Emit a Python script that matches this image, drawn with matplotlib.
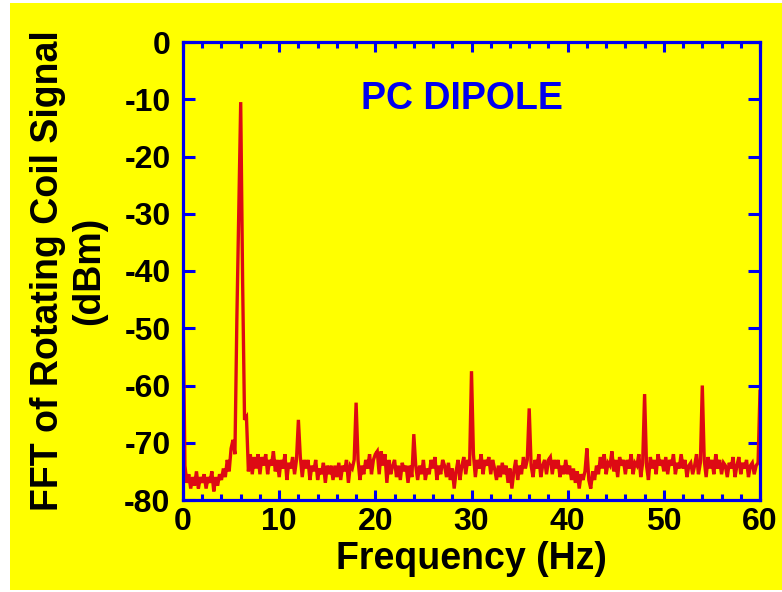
import numpy as np
from matplotlib import pyplot as plt
from matplotlib.patches import Rectangle
from matplotlib.ticker import MultipleLocator

# Spectrum sampled every 0.2 Hz, 0 .. 60 Hz
freq_step = 0.2
level_dbm = [
    # 0.0 - 1.8
    -45, -74, -77, -75.5, -78, -76, -77.5, -75, -78, -76,
    # 2.0 - 3.8
    -77, -75.5, -78, -76, -77, -75, -78.5, -76, -77.5, -75.5,
    # 4.0 - 5.8
    -76.5, -74.5, -76, -73, -75, -71, -69.5, -72, -48.5, -30,
    # 6.0 - 7.8
    -10.5, -42, -66, -65.5, -75, -72, -75.5, -72.5, -74.5, -72,
    # 8.0 - 9.8
    -75.5, -72.5, -74, -72, -75.5, -73, -74, -71.5, -75, -73,
    # 10.0 - 11.8
    -76, -73, -74.5, -72, -76.5, -73.5, -74.5, -72.5, -75.5, -73,
    # 12.0 - 13.8
    -66, -72.5, -76, -73, -74.5, -73, -76.5, -74, -75, -73,
    # 14.0 - 15.8
    -76.5, -74.5, -75.5, -73.5, -77, -74, -75.5, -74, -76.5, -74,
    # 16.0 - 17.8
    -76, -73.5, -76.5, -74, -75, -73, -77, -74, -74.5, -73,
    # 18.0 - 19.8
    -63, -73, -76.5, -74, -75.5, -73, -74.5, -72, -75.5, -73,
    # 20.0 - 21.8
    -72, -71.5, -75.5, -71.5, -74, -72, -77, -73, -75.5, -74,
    # 22.0 - 23.8
    -73, -76, -74, -76.5, -73.5, -75, -74, -77, -74, -76,
    # 24.0 - 25.8
    -68.5, -74, -76.5, -74, -75.5, -73, -76.5, -74.5, -75.5, -73,
    # 26.0 - 27.8
    -74.5, -72.5, -76.5, -74, -75.5, -73, -74, -76, -73.5, -76.5,
    # 28.0 - 29.8
    -74.5, -78, -75, -73, -76.5, -74, -72.5, -75.5, -73, -74,
    # 30.0 - 31.8
    -57.5, -72, -76, -73, -74.5, -72, -75.5, -73, -74, -72.5,
    # 32.0 - 33.8
    -75.5, -73, -74.5, -76.5, -74, -76, -73.5, -75.5, -74, -77,
    # 34.0 - 35.8
    -74.5, -78, -75, -73, -76.5, -74, -75.5, -72.5, -74.5, -73,
    # 36.0 - 37.8
    -64, -74, -76, -73, -74.5, -72, -76, -74, -73, -75.5,
    # 38.0 - 39.8
    -73, -72.5, -75.5, -73, -74.5, -73, -76, -74, -75.5, -73,
    # 40.0 - 41.8
    -75.5, -74, -76.5, -74.5, -77, -75, -78, -75.5, -76.5, -75,
    # 42.0 - 43.8
    -71, -76.5, -78, -75, -76.5, -74, -75.5, -72.5, -74.5, -72,
    # 44.0 - 45.8
    -75.5, -73.5, -74, -71.5, -75, -73, -76, -72.5, -74, -73,
    # 46.0 - 47.8
    -75.5, -73, -74.5, -72, -75.5, -73.5, -74, -72, -76, -73.5,
    # 48.0 - 49.8
    -61.5, -74, -76.5, -72.5, -74.5, -73, -75.5, -72, -74, -73,
    # 50.0 - 51.8
    -75, -72.5, -75.5, -73, -74, -72, -75.5, -73.5, -74.5, -72,
    # 52.0 - 53.8
    -74.5, -73, -76, -74, -73.5, -75.5, -74, -72, -75.5, -73.5,
    # 54.0 - 55.8
    -60, -73, -76, -72.5, -74.5, -73, -75.5, -72, -74.5, -73,
    # 56.0 - 57.8
    -75.5, -73.5, -74, -76, -73.5, -74.5, -72.5, -76, -74, -72.5,
    # 58.0 - 59.8
    -75.5, -73.5, -74.5, -73, -76, -74, -73.5, -75.5, -74, -73.5,
    # 60.0
    -61,
]
freq_hz = np.arange(len(level_dbm)) * freq_step

title = 'PC DIPOLE'
x_label = 'Frequency (Hz)'
y_label = 'FFT of Rotating Coil Signal\n(dBm)'

# Styles
back_colour = '#FFFF00'
axis_colour = '#0000EE'
line_colour = '#DD0A14'
font = ['Liberation Sans', 'DejaVu Sans']

plt.rcParams['font.family'] = font
plt.rcParams['font.weight'] = 'bold'
plt.rcParams['axes.labelweight'] = 'bold'
plt.rcParams['axes.unicode_minus'] = False

fig = plt.figure(figsize=(7.82, 5.92), dpi=100, facecolor='white')
fig.patches.append(Rectangle((10 / 782, 2 / 592), 772 / 782, 587 / 592,
                             transform=fig.transFigure, facecolor=back_colour,
                             edgecolor='none', zorder=-10))

ax = fig.add_axes([183 / 782, 1 - 500 / 592, 577 / 782, 458 / 592])
ax.set_facecolor(back_colour)

ax.plot(freq_hz, level_dbm, color=line_colour, lw=2.4, solid_joinstyle='miter')

ax.set_xlim(0, 60)
ax.set_ylim(-80, 0)
ax.xaxis.set_major_locator(MultipleLocator(10))
ax.xaxis.set_minor_locator(MultipleLocator(2))
ax.yaxis.set_major_locator(MultipleLocator(10))

for s in ax.spines.values():
    s.set_color(axis_colour)
    s.set_linewidth(2.3)

ax.tick_params(axis='x', which='major', direction='in', length=7.5, width=2.2,
               color=axis_colour, top=True, labelsize=23, pad=5)
ax.tick_params(axis='x', which='minor', direction='in', length=4.5, width=2.2,
               color=axis_colour, top=True)
ax.tick_params(axis='y', which='major', direction='in', length=8.5, width=2.2,
               color=axis_colour, right=True, labelsize=23, pad=9)

ax.set_xlabel(x_label, fontsize=27, labelpad=3)
ax.set_ylabel(y_label, fontsize=27, labelpad=12, linespacing=1.2)

ax.text(29.0, -10, title, color=axis_colour, fontsize=27, ha='center', va='center')

fig.savefig('out.png', dpi=100)
